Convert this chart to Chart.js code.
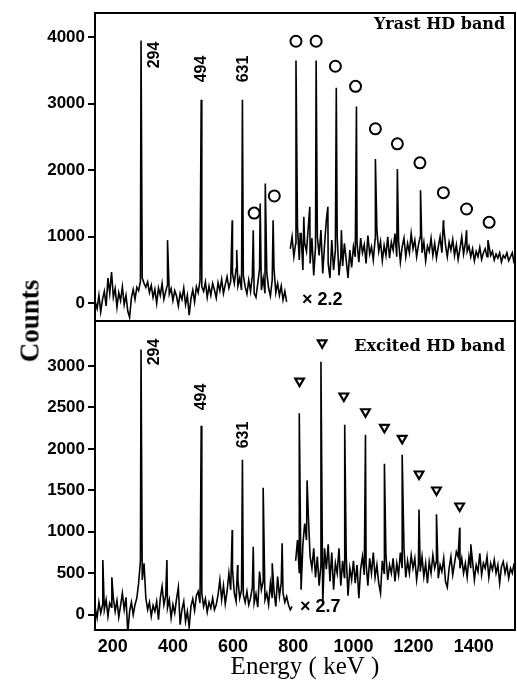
<!DOCTYPE html>
<html>
<head>
<meta charset="utf-8">
<script src="https://cdn.jsdelivr.net/npm/chart.js@4.4.1/dist/chart.umd.min.js"></script>
<style>
  body { margin: 0; background: #fff; }
  #wrap { position: relative; width: 517px; height: 690px; }
  #top-box { position: absolute; left: 0; top: 0; width: 517px; height: 322px; }
  #bottom-box { position: absolute; left: 0; top: 320px; width: 517px; height: 370px; }
  #counts-title {
    position: absolute; left: 30px; top: 321px;
    transform: translate(-50%, -50%) rotate(-90deg);
    font: bold 27px "Liberation Serif", serif; color: #000; white-space: nowrap;
  }
</style>
</head>
<body>
<div id="wrap">
  <div id="top-box"><canvas id="yrast-chart" width="517" height="322"></canvas></div>
  <div id="bottom-box"><canvas id="excited-chart" width="517" height="370"></canvas></div>
  <div id="counts-title">Counts</div>
</div>
<script>
// spectrum channels: energy = energyStart + energyStep * index (keV)
const energyStart = 142;
const energyStep = 6;

// yrast gate (top), background counts; null = break at the x2.2 join
const yrastCounts = [
  20, -80, 120, -130, 60, 180, -40, 380, 150, 470, 90, 220, -60, 160, 40, 250, -20, 120, -120, -210,
  80, 210, 60, 240, 190, 330, 380, 300, 240, 320, 160, 270, 90, 210, 0, 230, 120, 300, 60, 180,
  280, 140, 220, 40, 190, 110, -40, 150, 60, 230, -20, 120, -180, 70, 200, 20, 250, 160, 340, 250,
  180, 320, 90, 260, 120, 300, 200, 80, 310, 190, 360, 150, 280, 400, 230, 330, 450, 300, 520, 260,
  380, 200, 420, 250, 140, 350, 180, 420, 150, 90, 300, 520, 200, 380, 150, 460, 230, 110, 350, 520,
  160, 300, 120, 260, 50, 180, 20, null, 820, 1000, 700, 900, 1150, 650, 1050, 500, 900, 780, 1150, 600,
  980, 420, 850, 1000, 720, 1100, 450, 880, 1250, 600, 380, 950, 500, 800, 1000, 420, 700, 560, 900, 650,
  380, 800, 540, 850, 700, 900, 620, 980, 760, 880, 600, 1020, 740, 850, 650, 960, 1100, 780, 930, 640,
  870, 720, 1000, 680, 920, 800, 1050, 700, 940, 620, 850, 980, 700, 900, 760, 1050, 820, 950, 700, 880,
  1000, 760, 920, 640, 860, 780, 980, 720, 900, 680, 850, 1000, 760, 1150, 880, 700, 920, 800, 960, 720,
  880, 660, 820, 1000, 740, 900, 780, 860, 700, 820, 640, 780, 700, 840, 660, 760, 820, 700, 880, 720,
  780, 650, 740, 680, 760, 620, 720, 680, 760, 640, 700, 760, 600
];
const yrastPeakEnergy = [294, 382, 494, 597, 612, 631, 667, 690, 707, 733,
  809, 823, 835, 855, 876, 915, 943, 960, 1010, 1073, 1146, 1223, 1299, 1376, 1447];
const yrastPeakCounts = [3950, 950, 3060, 1250, 800, 3060, 1100, 1500, 1800, 1250,
  3650, 1050, 1300, 1450, 3650, 1450, 3240, 1100, 2960, 2170, 2020, 1700, 1250, 1100, 950];

// excited gate (bottom)
const excitedCounts = [
  80, -40, 150, 20, 120, 60, 180, -20, 140, 90, 200, 40, 170, -30, 110, 260, 60, 210, -220, 40,
  150, 0, 120, 200, 380, 650, 420, 620, 200, 60, 150, -20, 110, 40, 160, -60, 200, 340, 120, 230,
  80, 180, -40, 120, 20, 190, 330, -120, 60, 160, -80, 40, -150, 100, 190, 50, 230, 280, 140, 260,
  100, 190, 30, 150, 80, 200, 60, 120, 240, 420, 180, 350, 130, 280, 500, 300, 550, 260, 160, 420,
  200, 300, 240, 150, 280, 120, 200, 330, 140, 250, 90, 520, 300, 400, 180, 260, 120, 380, 200, 280,
  100, 460, 220, 380, 260, 150, 220, 120, 60, 100, null, 650, 900, 500, 300, 850, 1100, 900, 1200, 700,
  560, 800, 450, 700, 350, 600, 120, 800, 550, 850, 400, 750, 300, 620, 500, 800, 350, 650, 450, 700,
  230, 560, 420, 650, 380, 600, 200, 550, 700, 480, 620, 350, 680, 500, 750, 450, 600, 380, 260, 650,
  500, 720, 420, 600, 500, 680, 400, 620, 480, 750, 560, 800, 450, 650, 500, 720, 560, 680, 420, 600,
  520, 700, 460, 620, 380, 640, 500, 720, 560, 650, 440, 600, 520, 680, 400, 330, 560, 700, 480, 620,
  760, 700, 560, 680, 500, 620, 450, 700, 560, 640, 420, 600, 520, 740, 480, 620, 560, 700, 450, 620,
  540, 660, 500, 600, 380, 580, 640, 500, 600, 440, 560, 500, 620
];
const excitedPeakEnergy = [167, 197, 294, 380, 494, 597, 615, 631, 667, 700, 730, 763,
  820, 846, 892, 971, 1040, 1103, 1162, 1218, 1276, 1353, 1390];
const excitedPeakCounts = [660, 450, 3200, 660, 2280, 1020, 600, 1870, 820, 1530, 620, 860,
  2430, 1620, 3050, 2290, 2170, 1820, 1930, 1270, 1210, 1050, 850];

// band markers
const yrastMarkEnergy = [670, 737, 809, 876, 940, 1007, 1073, 1146, 1221, 1299, 1376, 1451];
const yrastMarkCounts = [1357, 1614, 3940, 3940, 3564, 3262, 2624, 2398, 2112, 1664, 1418, 1217];
const excitedMarkEnergy = [821, 896, 968, 1040, 1103, 1162, 1218, 1276, 1353];
const excitedMarkCounts = [2818, 3280, 2638, 2448, 2260, 2127, 1697, 1504, 1311];

// axes
const energyMin = 141, energyMax = 1537;
const energyTicks = [200, 400, 600, 800, 1000, 1200, 1400];
const yrastTicks = [0, 1000, 2000, 3000, 4000];
const excitedTicks = [0, 500, 1000, 1500, 2000, 2500, 3000];

// in-panel text
const lineLabels = ["294", "494", "631"];
const lineLabelEnergy = [340, 496, 634];
const yrastLineLabelCounts = [3734, 3523, 3523];
const excitedLineLabelCounts = [3169, 2626, 2168];

function buildSpectrum(counts, peakE, peakH) {
  const pts = counts.map((c, i) => ({ x: energyStart + energyStep * i, y: c }));
  peakE.forEach((e, k) => pts.push({ x: e, y: peakH[k] }));
  return pts.sort((a, b) => a.x - b.x);
}

function toPoints(xs, ys) {
  return xs.map((x, i) => ({ x: x, y: ys[i] }));
}

const panelText = {
  id: "panelText",
  afterDatasetsDraw(chart, args, opts) {
    const { ctx, scales } = chart;
    ctx.save();
    ctx.fillStyle = "#000";
    opts.items.forEach(it => {
      const px = scales.x.getPixelForValue(it.x);
      const py = scales.y.getPixelForValue(it.y);
      ctx.font = it.font;
      ctx.textBaseline = "middle";
      ctx.textAlign = it.align || "center";
      if (it.rotate) {
        ctx.save();
        ctx.translate(px, py);
        ctx.rotate(-Math.PI / 2);
        ctx.fillText(it.text, 0, 0);
        ctx.restore();
      } else {
        ctx.fillText(it.text, px, py);
      }
    });
    const a = chart.chartArea;
    ctx.strokeStyle = "#000";
    ctx.lineWidth = 2;
    ctx.strokeRect(a.left, a.top, a.right - a.left, a.bottom - a.top);
    ctx.restore();
  }
};

const numFont = 'bold 16px "Liberation Sans", sans-serif';
const bandFont = 'bold 16px "DejaVu Serif", serif';
const scaleFont = 'bold 18px "Liberation Sans", sans-serif';

function yAxis(min, max, ticks) {
  return {
    min: min,
    max: max,
    afterBuildTicks: s => { s.ticks = ticks.map(v => ({ value: v })); },
    afterFit: s => { s.width = 95; s.paddingTop = 0; s.paddingBottom = 0; },
    border: { display: false },
    grid: { drawOnChartArea: false, drawTicks: true, tickLength: 7, color: "#000", lineWidth: 2 },
    ticks: {
      color: "#000",
      padding: 3,
      callback: v => String(v),
      font: { family: "Liberation Sans", weight: "bold", size: 17 }
    }
  };
}

function makeChart(id, spectrum, marks, markStyle, yScale, xScale, padding, texts) {
  return new Chart(document.getElementById(id), {
    type: "scatter",
    data: {
      datasets: [
        {
          data: spectrum,
          showLine: true,
          borderColor: "#000",
          borderWidth: 1.6,
          pointRadius: 0,
          tension: 0
        },
        {
          data: marks,
          showLine: false,
          pointStyle: markStyle.style,
          rotation: markStyle.rotation,
          pointRadius: markStyle.radius,
          borderWidth: markStyle.width,
          borderColor: "#000",
          backgroundColor: "#fff"
        }
      ]
    },
    options: {
      responsive: false,
      animation: false,
      layout: { padding: padding, autoPadding: false },
      scales: { x: xScale, y: yScale },
      plugins: {
        legend: { display: false },
        tooltip: { enabled: false },
        panelText: { items: texts }
      }
    },
    plugins: [panelText]
  });
}

const topTexts = lineLabels.map((t, i) => ({
  text: t, x: lineLabelEnergy[i], y: yrastLineLabelCounts[i], rotate: true, font: numFont
})).concat([
  { text: "Yrast HD band", x: 1504, y: 4180, align: "right", font: bandFont },
  { text: "× 2.2", x: 829, y: 50, align: "left", font: scaleFont }
]);

const bottomTexts = lineLabels.map((t, i) => ({
  text: t, x: lineLabelEnergy[i], y: excitedLineLabelCounts[i], rotate: true, font: numFont
})).concat([
  { text: "Excited HD band", x: 1504, y: 3229, align: "right", font: bandFont },
  { text: "× 2.7", x: 822, y: 93, align: "left", font: scaleFont }
]);

makeChart(
  "yrast-chart",
  buildSpectrum(yrastCounts, yrastPeakEnergy, yrastPeakCounts),
  toPoints(yrastMarkEnergy, yrastMarkCounts),
  { style: "circle", rotation: 0, radius: 5.5, width: 2 },
  yAxis(-266, 4365, yrastTicks),
  { type: "linear", min: energyMin, max: energyMax, display: false },
  { top: 13, bottom: 1, left: 0, right: 2 },
  topTexts
);

makeChart(
  "excited-chart",
  buildSpectrum(excitedCounts, excitedPeakEnergy, excitedPeakCounts),
  toPoints(excitedMarkEnergy, excitedMarkCounts),
  { style: "triangle", rotation: 180, radius: 5, width: 2.2 },
  yAxis(-185, 3543, excitedTicks),
  {
    type: "linear",
    min: energyMin,
    max: energyMax,
    afterBuildTicks: s => { s.ticks = energyTicks.map(v => ({ value: v })); },
    afterFit: s => { s.height = 60; s.paddingLeft = 0; s.paddingRight = 0; },
    border: { display: false },
    grid: { display: false, tickLength: 0 },
    ticks: {
      color: "#000",
      padding: 6,
      maxRotation: 0,
      callback: v => String(v),
      font: { family: "Liberation Sans", weight: "bold", size: 18 }
    },
    title: {
      display: true,
      text: "Energy ( keV )",
      color: "#000",
      padding: { top: 0, bottom: 8 },
      font: { family: "Liberation Serif", size: 25 }
    }
  },
  { top: 1, bottom: 0, left: 0, right: 2 },
  bottomTexts
);
</script>
</body>
</html>
